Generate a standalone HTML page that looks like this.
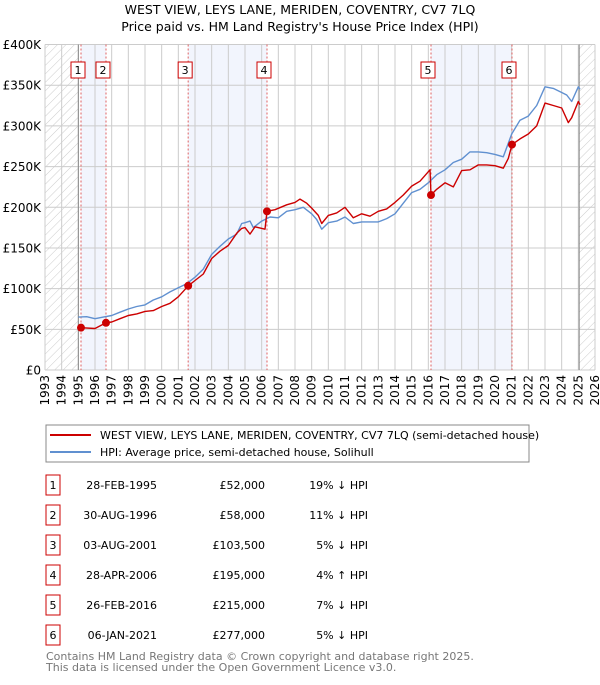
<!DOCTYPE html>
<html><head><meta charset="utf-8"><style>
body{margin:0;background:#fff;font-family:"Liberation Sans","DejaVu Sans",sans-serif;}
svg text{font-family:"DejaVu Sans","Liberation Sans",sans-serif;}
</style></head><body>
<svg id="c" width="600" height="680" xmlns="http://www.w3.org/2000/svg">
<defs><pattern id="hatch" width="6" height="6" patternUnits="userSpaceOnUse" patternTransform="rotate(45)"><line x1="0" y1="0" x2="0" y2="6" stroke="#ccc" stroke-width="1"/></pattern></defs>
<text x="300" y="14" text-anchor="middle" font-size="12.5">WEST VIEW, LEYS LANE, MERIDEN, COVENTRY, CV7 7LQ</text>
<text x="300" y="31" text-anchor="middle" font-size="12.5">Price paid vs. HM Land Registry's House Price Index (HPI)</text>
<g id="plot"></g>
<g>
<rect x="46" y="425" width="483" height="37" fill="#fff" stroke="#888"/>
<line x1="50" y1="435" x2="91" y2="435" stroke="#cc0000" stroke-width="2"/>
<text x="100" y="439" font-size="11">WEST VIEW, LEYS LANE, MERIDEN, COVENTRY, CV7 7LQ (semi-detached house)</text>
<line x1="50" y1="452" x2="91" y2="452" stroke="#6090d0" stroke-width="2"/>
<text x="100" y="456" font-size="11">HPI: Average price, semi-detached house, Solihull</text>
</g>
<g id="table"></g>
<text x="46" y="660" font-size="11" fill="#777">Contains HM Land Registry data © Crown copyright and database right 2025.</text>
<text x="46" y="671" font-size="11" fill="#777">This data is licensed under the Open Government Licence v3.0.</text>
</svg>
<script>
const hpiYears=[1995,1995.5,1996,1996.5,1997,1997.5,1998,1998.5,1999,1999.5,2000,2000.5,2001,2001.5,2002,2002.5,2003,2003.5,2004,2004.5,2004.8,2005,2005.3,2005.5,2006,2006.5,2007,2007.5,2008,2008.5,2009,2009.3,2009.6,2010,2010.5,2011,2011.5,2012,2012.5,2013,2013.5,2014,2014.5,2015,2015.5,2016,2016.5,2017,2017.5,2018,2018.5,2019,2019.5,2020,2020.5,2021,2021.5,2022,2022.5,2023,2023.5,2024,2024.3,2024.6,2025,2025.1];
const hpiValues=[65,65.5,63,65,67,71,75,78,80,86,90,96,101,106,114,124,142,152,161,167,180,181,183,175,183,188,187,195,197,200,192,185,173,181,183,188,180,182,182,182,186,192,205,218,222,230,240,246,255,259,268,268,267,265,262,290,307,312,325,348,346,341,338,330,348,345];
const propYears=[1995.16,1996,1996.66,1997,1997.5,1998,1998.5,1999,1999.5,2000,2000.5,2001,2001.6,2002,2002.5,2003,2003.5,2004,2004.5,2004.8,2005,2005.3,2005.6,2006.2,2006.32,2006.8,2007.5,2008,2008.3,2008.7,2009,2009.4,2009.6,2010,2010.5,2011,2011.5,2012,2012.5,2013,2013.5,2014,2014.5,2015,2015.5,2016.1,2016.16,2016.5,2017,2017.5,2018,2018.5,2019,2019.5,2020,2020.5,2020.8,2021.02,2021.5,2022,2022.5,2023,2023.5,2024,2024.4,2024.6,2025,2025.1];
const propValues=[52,51,58,59,63,67,69,72,73,78,82,90,103.5,110,118,137,146,153,168,174,175,167,176,173,195,197,203,206,210,205,199,190,180,190,193,200,187,192,189,195,198,206,215,226,232,246,215,222,230,225,245,246,252,252,251,248,260,277,284,290,300,328,325,322,304,310,330,326];
const saleYears=[1995.16,1996.66,2001.59,2006.32,2016.16,2021.02];
const saleValues=[52,58,103.5,195,215,277];
const saleDates=["28-FEB-1995","30-AUG-1996","03-AUG-2001","28-APR-2006","26-FEB-2016","06-JAN-2021"];
const salePrices=["£52,000","£58,000","£103,500","£195,000","£215,000","£277,000"];
const saleDiffs=["19% ↓ HPI","11% ↓ HPI","5% ↓ HPI","4% ↑ HPI","7% ↓ HPI","5% ↓ HPI"];
const yTicks=[0,50,100,150,200,250,300,350,400];
const yTickLabels=["£0","£50K","£100K","£150K","£200K","£250K","£300K","£350K","£400K"];
const xTicks=[1993,1994,1995,1996,1997,1998,1999,2000,2001,2002,2003,2004,2005,2006,2007,2008,2009,2010,2011,2012,2013,2014,2015,2016,2017,2018,2019,2020,2021,2022,2023,2024,2025,2026];

const NS="http://www.w3.org/2000/svg";
const X0=45,X1=595,Y0=370,Y1=44.5;
const xs=t=>X0+(t-1993)/(2026-1993)*(X1-X0);
const ys=v=>Y0-v/400*(Y0-Y1);
const plot=document.getElementById('plot');
function mk(tag,attrs,parent){const e=document.createElementNS(NS,tag);for(const k in attrs)e.setAttribute(k,attrs[k]);(parent||plot).appendChild(e);return e;}
for(let i=0;i<6;i+=2){
  const r=mk('rect',{x:xs(saleYears[i]),y:Y1,width:xs(saleYears[i+1])-xs(saleYears[i]),height:Y0-Y1,fill:'#f2f5fd'});
  
  
}
const h1=mk('rect',{x:X0,y:Y1,width:xs(1995)-X0,height:Y0-Y1,fill:'url(#hatch)'});


const h2=mk('rect',{x:xs(2025.05),y:Y1,width:X1-xs(2025.05),height:Y0-Y1,fill:'url(#hatch)'});


xTicks.forEach((t,i)=>{
  const l=mk('line',{x1:xs(t),x2:xs(t),y1:Y1,y2:Y0,stroke:'#ccc','stroke-width':1});
  
  
  const tx=mk('text',{x:0,y:0,'font-size':12,'text-anchor':'end',transform:`translate(${xs(t)+4},${Y0+5}) rotate(-90)`});
  tx.textContent=t;
  
  
});
yTicks.forEach((v,i)=>{
  const l=mk('line',{x1:X0,x2:X1,y1:ys(v),y2:ys(v),stroke:'#ccc','stroke-width':1});
  
  
  const tx=mk('text',{x:X0-4,y:ys(v)+4.5,'font-size':12,'text-anchor':'end'});
  tx.textContent=yTickLabels[i];
  
  
});
[1995,2025.05].forEach(t=>{const l=mk('line',{x1:xs(t),x2:xs(t),y1:Y1,y2:Y0,stroke:'#888','stroke-width':1});
  
  });
saleYears.forEach((t,i)=>{
  const l=mk('line',{x1:xs(t),x2:xs(t),y1:Y1,y2:Y0,stroke:'#e06060','stroke-width':1,'stroke-dasharray':'2,2'});
  
  
  const g=mk('g',{});
  
  
  mk('rect',{x:xs(t)-10,y:62,width:14,height:16,fill:'#fff',stroke:'#cc0000'},g);
  const tx=mk('text',{x:xs(t)-3,y:74,'font-size':11,'text-anchor':'middle'},g);
  tx.textContent=i+1;
});
function path(xa,va,color,name){
  const d=xa.map((t,i)=>(i?'L':'M')+xs(t).toFixed(1)+','+ys(va[i]).toFixed(1)).join('');
  const p=mk('path',{d:d,fill:'none',stroke:color,'stroke-width':1.4,'stroke-linejoin':'round'});
  
  
}
path(hpiYears,hpiValues,'#6090d0','hpi-line');
path(propYears,propValues,'#cc0000','property-line');
saleYears.forEach((t,i)=>{
  const c=mk('circle',{cx:xs(t),cy:ys(saleValues[i]),r:4,fill:'#cc0000'});
  
  
});
const tb=document.getElementById('table');
saleDates.forEach((d,i)=>{
  const y=491+i*30;
  const g=mk('g',{},tb);
  
  
  mk('rect',{x:46,y:y-16,width:14,height:20,fill:'#fff',stroke:'#cc0000'},g);
  const n=mk('text',{x:53,y:y-2,'font-size':11,'text-anchor':'middle'},g);n.textContent=i+1;
  const a=mk('text',{x:157,y:y-2,'font-size':11,'text-anchor':'end'},g);a.textContent=d;
  const b=mk('text',{x:265,y:y-2,'font-size':11,'text-anchor':'end'},g);b.textContent=salePrices[i];
  const c=mk('text',{x:368,y:y-2,'font-size':11,'text-anchor':'end'},g);c.textContent=saleDiffs[i];
});
</script>
</body></html>
